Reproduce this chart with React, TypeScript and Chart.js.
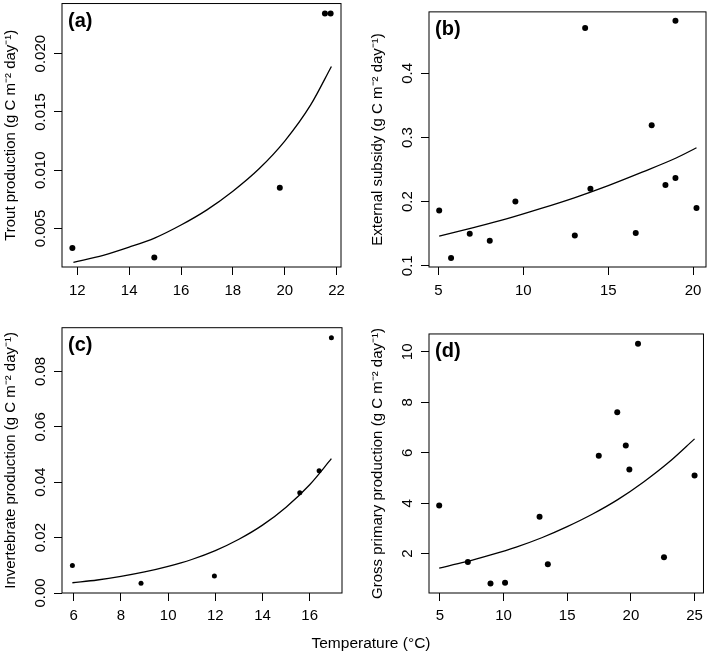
import React, { useEffect, useRef } from "react";
import { Chart, registerables } from "chart.js";

Chart.register(...registerables);

const FONT = '"Liberation Sans", Arial, Helvetica, sans-serif';

// ---------- Panel (a): trout production ----------
const tempA = [11.81, 14.97, 19.81, 21.55, 21.77];
const troutA = [0.00333, 0.00252, 0.0085, 0.02345, 0.02345];
const fitTempA = [11.85, 13, 14, 15, 16, 17, 18, 19, 20, 21, 21.8];
const fitTroutA = [0.0021, 0.0027, 0.0034, 0.0042, 0.0053, 0.0066, 0.0082, 0.0101, 0.0125, 0.0156, 0.0189];
const xTicksA = [12, 14, 16, 18, 20, 22];
const xLabelsA = ["12", "14", "16", "18", "20", "22"];
const yTicksA = [0.005, 0.01, 0.015, 0.02];
const yLabelsA = ["0.005", "0.010", "0.015", "0.020"];
const xRangeA = [11.41, 22.17];
const yRangeA = [0.0017, 0.0243];

// ---------- Panel (b): external subsidy ----------
const tempB = [5.04, 5.74, 6.84, 8.02, 9.53, 13.03, 13.64, 13.95, 16.62, 17.56, 18.37, 18.96, 18.96, 20.2];
const subsidyB = [0.186, 0.112, 0.15, 0.139, 0.2, 0.147, 0.471, 0.22, 0.151, 0.319, 0.226, 0.237, 0.482, 0.19];
const fitTempB = [5.04, 7, 9, 11, 13, 15, 17, 19, 20.2];
const fitSubsidyB = [0.146, 0.159, 0.173, 0.189, 0.206, 0.225, 0.246, 0.268, 0.284];
const xTicksB = [5, 10, 15, 20];
const xLabelsB = ["5", "10", "15", "20"];
const yTicksB = [0.1, 0.2, 0.3, 0.4];
const yLabelsB = ["0.1", "0.2", "0.3", "0.4"];
const xRangeB = [4.44, 20.76];
const yRangeB = [0.098, 0.496];

// ---------- Panel (c): invertebrate production ----------
const tempC = [5.94, 8.85, 11.96, 15.58, 16.4, 16.92];
const invertC = [0.0099, 0.0035, 0.0061, 0.0362, 0.0441, 0.0922];
const fitTempC = [5.94, 7, 8, 9, 10, 11, 12, 13, 14, 15, 16, 16.92];
const fitInvertC = [0.0037, 0.0047, 0.006, 0.0076, 0.0096, 0.0121, 0.0153, 0.0194, 0.0245, 0.031, 0.0391, 0.0485];
const xTicksC = [6, 8, 10, 12, 14, 16];
const xLabelsC = ["6", "8", "10", "12", "14", "16"];
const yTicksC = [0, 0.02, 0.04, 0.06, 0.08];
const yLabelsC = ["0.00", "0.02", "0.04", "0.06", "0.08"];
const xRangeC = [5.5, 17.37];
const yRangeC = [0, 0.0958];

// ---------- Panel (d): gross primary production ----------
const tempD = [4.95, 7.2, 8.98, 10.12, 12.83, 13.48, 17.48, 18.93, 19.6, 19.88, 20.56, 22.6, 25.0];
const gppD = [3.91, 1.67, 0.82, 0.85, 3.46, 1.58, 5.88, 7.61, 6.29, 5.34, 10.32, 1.86, 5.1];
const fitTempD = [4.95, 7, 9, 11, 13, 15, 17, 19, 21, 23, 25];
const fitGppD = [1.43, 1.67, 1.95, 2.26, 2.63, 3.07, 3.57, 4.15, 4.84, 5.63, 6.55];
const xTicksD = [5, 10, 15, 20, 25];
const xLabelsD = ["5", "10", "15", "20", "25"];
const yTicksD = [2, 4, 6, 8, 10];
const yLabelsD = ["2", "4", "6", "8", "10"];
const xRangeD = [4.15, 25.7];
const yRangeD = [0.44, 10.71];

const UNIT = " (g C m\u207B\u00B2 day\u207B\u00B9)";

type PanelCfg = {
  tag: string;
  yTitle: string;
  xs: number[];
  ys: number[];
  fx: number[];
  fy: number[];
  xTicks: number[];
  xLabels: string[];
  yTicks: number[];
  yLabels: string[];
  xRange: number[];
  yRange: number[];
  pos: { left: number; top: number; w: number; h: number };
  L: number;
  T: number;
  R: number;
  H: number;
  titleX: number;
  radius: number;
  xPad: number;
};

const panels: PanelCfg[] = [
  {
    tag: "(a)", yTitle: "Trout production" + UNIT,
    xs: tempA, ys: troutA, fx: fitTempA, fy: fitTroutA,
    xTicks: xTicksA, xLabels: xLabelsA, yTicks: yTicksA, yLabels: yLabelsA,
    xRange: xRangeA, yRange: yRangeA,
    pos: { left: 0, top: 0, w: 354, h: 320 }, L: 62, T: 1, R: 13, H: 53, titleX: 11, radius: 3, xPad: 7,
  },
  {
    tag: "(b)", yTitle: "External subsidy" + UNIT,
    xs: tempB, ys: subsidyB, fx: fitTempB, fy: fitSubsidyB,
    xTicks: xTicksB, xLabels: xLabelsB, yTicks: yTicksB, yLabels: yLabelsB,
    xRange: xRangeB, yRange: yRangeB,
    pos: { left: 354, top: 0, w: 355, h: 320 }, L: 75, T: 1, R: 3, H: 53, titleX: 24, radius: 3, xPad: 7,
  },
  {
    tag: "(c)", yTitle: "Invertebrate production" + UNIT,
    xs: tempC, ys: invertC, fx: fitTempC, fy: fitInvertC,
    xTicks: xTicksC, xLabels: xLabelsC, yTicks: yTicksC, yLabels: yLabelsC,
    xRange: xRangeC, yRange: yRangeC,
    pos: { left: 0, top: 320, w: 354, h: 333 }, L: 62, T: 6, R: 12, H: 60, titleX: 11, radius: 2.5, xPad: 6,
  },
  {
    tag: "(d)", yTitle: "Gross primary production" + UNIT,
    xs: tempD, ys: gppD, fx: fitTempD, fy: fitGppD,
    xTicks: xTicksD, xLabels: xLabelsD, yTicks: yTicksD, yLabels: yLabelsD,
    xRange: xRangeD, yRange: yRangeD,
    pos: { left: 354, top: 320, w: 355, h: 333 }, L: 75, T: 6, R: 3, H: 60, titleX: 24, radius: 3, xPad: 6,
  },
];

function measureWidest(labels: string[], size: number): number {
  const c = document.createElement("canvas");
  const ctx = c.getContext("2d");
  if (!ctx) return 0;
  ctx.font = `${size}px ${FONT}`;
  return Math.max(...labels.map((l) => ctx.measureText(l).width));
}

function Panel({ cfg }: { cfg: PanelCfg }) {
  const ref = useRef<HTMLCanvasElement | null>(null);

  useEffect(() => {
    const canvas = ref.current;
    if (!canvas) return;
    const TICK = 8;
    const FS = 15;
    const widest = measureWidest(cfg.yLabels, FS);
    const yPad = 21.3 - TICK - widest / 2;
    const lineH = FS * 1.2;

    const boxPlugin = {
      id: "boxAndTag",
      afterDraw(chart: any) {
        const { ctx, chartArea } = chart;
        ctx.save();
        ctx.strokeStyle = "#000";
        ctx.lineWidth = 1;
        ctx.strokeRect(chartArea.left, chartArea.top, chartArea.right - chartArea.left, chartArea.bottom - chartArea.top);
        ctx.fillStyle = "#000";
        ctx.font = `bold 20px ${FONT}`;
        ctx.textAlign = "left";
        ctx.textBaseline = "middle";
        ctx.fillText(cfg.tag, chartArea.left + 6, chartArea.top + 18);
        ctx.restore();
      },
    };

    const chart = new Chart(canvas, {
      type: "scatter",
      data: {
        datasets: [
          {
            data: cfg.xs.map((x, i) => ({ x, y: cfg.ys[i] })),
            showLine: false,
            pointRadius: cfg.radius,
            pointHoverRadius: cfg.radius,
            pointBackgroundColor: "#000",
            pointBorderWidth: 0,
            backgroundColor: "#000",
            borderColor: "#000",
          },
          {
            data: cfg.fx.map((x, i) => ({ x, y: cfg.fy[i] })),
            showLine: true,
            pointRadius: 0,
            pointHoverRadius: 0,
            borderColor: "#000",
            borderWidth: 1.3,
            cubicInterpolationMode: "monotone",
            fill: false,
          } as any,
        ],
      },
      options: {
        responsive: false,
        maintainAspectRatio: false,
        animation: false,
        events: [],
        layout: { padding: { left: 0, top: cfg.T, right: cfg.R, bottom: 0 } },
        plugins: {
          legend: { display: false },
          tooltip: { enabled: false },
        },
        scales: {
          x: {
            type: "linear",
            min: cfg.xRange[0],
            max: cfg.xRange[1],
            afterBuildTicks: (s: any) => {
              s.ticks = cfg.xTicks.map((v) => ({ value: v }));
            },
            afterFit: (s: any) => {
              s.height = cfg.H;
            },
            border: { display: false },
            grid: { drawOnChartArea: false, drawTicks: true, tickLength: TICK, color: "#000", lineWidth: 1 },
            ticks: {
              autoSkip: false,
              minRotation: 0,
              maxRotation: 0,
              padding: cfg.xPad,
              color: "#000",
              font: { family: FONT, size: FS },
              callback: (_v: any, i: number) => cfg.xLabels[i],
            },
          },
          y: {
            type: "linear",
            min: cfg.yRange[0],
            max: cfg.yRange[1],
            afterBuildTicks: (s: any) => {
              s.ticks = cfg.yTicks.map((v) => ({ value: v }));
            },
            afterFit: (s: any) => {
              s.width = cfg.L;
            },
            border: { display: false },
            grid: { drawOnChartArea: false, drawTicks: true, tickLength: TICK, color: "#000", lineWidth: 1 },
            ticks: {
              autoSkip: false,
              minRotation: 90,
              maxRotation: 90,
              crossAlign: "center",
              padding: yPad,
              color: "#000",
              font: { family: FONT, size: FS },
              callback: (_v: any, i: number) => cfg.yLabels[i],
            },
            title: {
              display: true,
              text: cfg.yTitle,
              color: "#000",
              font: { family: FONT, size: FS },
              padding: { top: cfg.titleX - lineH / 2, bottom: 0 },
            },
          },
        },
      } as any,
      plugins: [boxPlugin],
    });
    return () => chart.destroy();
  }, [cfg]);

  return (
    <canvas
      ref={ref}
      width={cfg.pos.w}
      height={cfg.pos.h}
      style={{ position: "absolute", left: cfg.pos.left, top: cfg.pos.top, width: cfg.pos.w, height: cfg.pos.h }}
    />
  );
}

export default function App() {
  return (
    <div style={{ position: "absolute", left: 0, top: 0, width: 709, height: 653, background: "#fff", overflow: "hidden" }}>
      {panels.map((p) => (
        <Panel key={p.tag} cfg={p} />
      ))}
      <div
        style={{
          position: "absolute",
          left: 371,
          top: 643,
          transform: "translate(-50%, -50%)",
          whiteSpace: "nowrap",
          fontFamily: FONT,
          fontSize: 15.5,
          color: "#000",
        }}
      >
        Temperature (°C)
      </div>
    </div>
  );
}
